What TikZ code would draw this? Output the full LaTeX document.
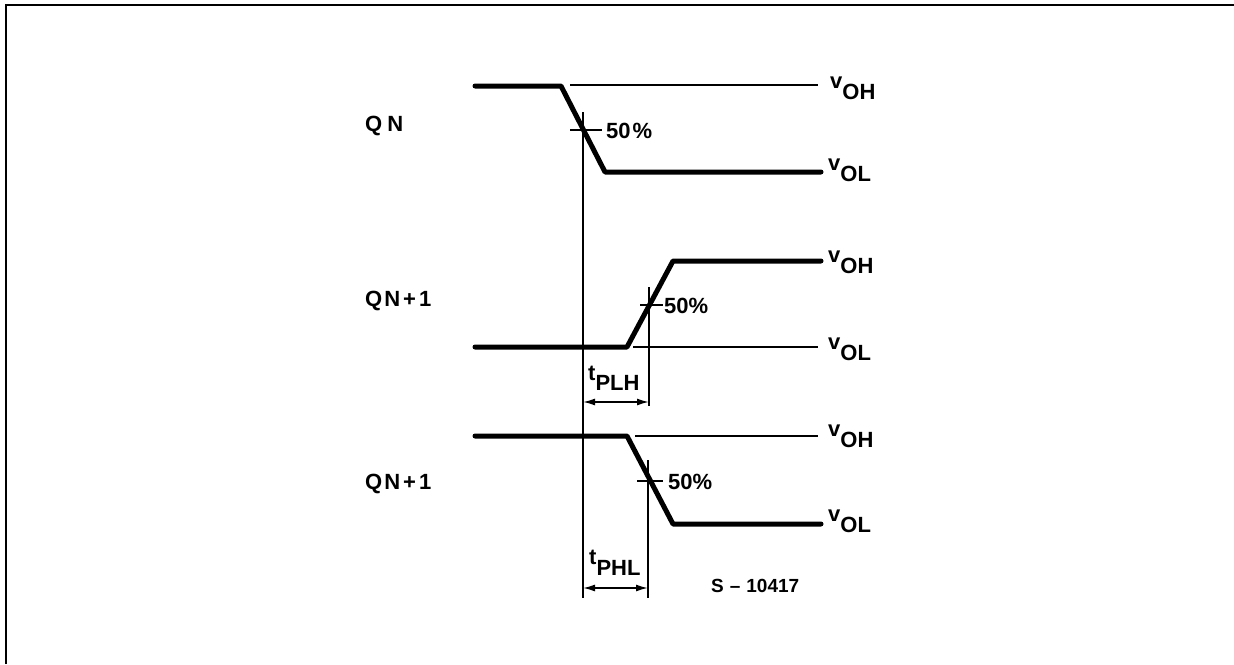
\documentclass[tikz,border=0pt]{standalone}
\usepackage{fontspec}
\setmainfont{Liberation Sans}
\usetikzlibrary{arrows.meta}
\begin{document}
\begin{tikzpicture}[x=1pt,y=-1pt,
  wave/.style={line width=5pt,line cap=round,line join=round},
  thinl/.style={line width=1.6pt},
  lbl/.style={font=\fontsize{22}{24}\selectfont\bfseries,inner sep=0pt,anchor=base west},
  dimarrow/.style={line width=1.6pt,{Latex[length=12pt,width=7pt]}-{Latex[length=12pt,width=7pt]}}]
\useasboundingbox (0,0) rectangle (1234,664);
% frame
\coordinate (fbl) at (6,664);
\coordinate (ftl) at (6,5);
\coordinate (ftr) at (1234,5);
\draw[line width=2.5pt] (fbl) -- (ftl) -- (ftr);

% ---------- QN ----------
\coordinate (a1) at (475,86);
\coordinate (a2) at (561,86);
\coordinate (a3) at (605,172);
\coordinate (a4) at (821,172);
\draw[wave] (a1) -- (a2) -- (a3) -- (a4);
\coordinate (aohs) at (570,85);
\coordinate (aohe) at (818,85);
\draw[thinl] (aohs) -- (aohe);
\coordinate (at1) at (570,130);
\coordinate (at2) at (602,130);
\draw[thinl] (at1) -- (at2);
\node[lbl] (qn) at (365,131) {Q\hspace{5pt}N};
\node[lbl] (a50) at (606,138) {50\hspace{2pt}\%};
\node[lbl] (avoh) at (830,88) {v\raisebox{-11pt}{OH}};
\node[lbl] (avol) at (828,170) {v\raisebox{-11pt}{OL}};

% ---------- QN+1 (rising) ----------
\coordinate (b1) at (475,347);
\coordinate (b2) at (627,347);
\coordinate (b3) at (673,261);
\coordinate (b4) at (821,261);
\draw[wave] (b1) -- (b2) -- (b3) -- (b4);
\coordinate (bols) at (633,347);
\coordinate (bole) at (818,347);
\draw[thinl] (bols) -- (bole);
\coordinate (bt1) at (640,305);
\coordinate (bt2) at (663,305);
\draw[thinl] (bt1) -- (bt2);
\node[lbl] (qn1) at (365,306) {Q\hspace{2pt}N\hspace{3pt}+\hspace{3pt}1};
\node[lbl] (b50) at (664,313) {50\%};
\node[lbl] (bvoh) at (828,262) {v\raisebox{-11pt}{OH}};
\node[lbl] (bvol) at (828,349) {v\raisebox{-11pt}{OL}};

% ---------- QN+1 (falling) ----------
\coordinate (c1) at (475,436);
\coordinate (c2) at (627,436);
\coordinate (c3) at (673,524);
\coordinate (c4) at (821,524);
\draw[wave] (c1) -- (c2) -- (c3) -- (c4);
\coordinate (cohs) at (635,436);
\coordinate (cohe) at (818,436);
\draw[thinl] (cohs) -- (cohe);
\coordinate (ct1) at (637,481);
\coordinate (ct2) at (663,481);
\draw[thinl] (ct1) -- (ct2);
\node[lbl] (qn2) at (365,489) {Q\hspace{2pt}N\hspace{3pt}+\hspace{3pt}1};
\node[lbl] (c50) at (668,489) {50\%};
\node[lbl] (cvoh) at (828,436) {v\raisebox{-11pt}{OH}};
\node[lbl] (cvol) at (828,521) {v\raisebox{-11pt}{OL}};

% ---------- reference verticals ----------
\coordinate (v0t) at (583,112);
\coordinate (v0b) at (583,598);
\draw[thinl] (v0t) -- (v0b);
\coordinate (v1t) at (649,287);
\coordinate (v1b) at (649,406);
\draw[thinl] (v1t) -- (v1b);
\coordinate (v2t) at (648,460);
\coordinate (v2b) at (648,598);
\draw[thinl] (v2t) -- (v2b);

% ---------- dimensions ----------
\coordinate (d1l) at (583,402);
\coordinate (d1r) at (649,402);
\draw[dimarrow] (d1l) -- (d1r);
\node[lbl] (tplh) at (588,380) {t\raisebox{-10pt}{PLH}};
\coordinate (d2l) at (583,588);
\coordinate (d2r) at (648,588);
\draw[dimarrow] (d2l) -- (d2r);
\node[lbl] (tphl) at (589,564) {t\raisebox{-11pt}{PHL}};

\node[lbl,font=\fontsize{19}{21}\selectfont\bfseries] (sref) at (711,592) {S\hspace{6pt}\textendash\hspace{6pt}10417};
\end{tikzpicture}
\end{document}
